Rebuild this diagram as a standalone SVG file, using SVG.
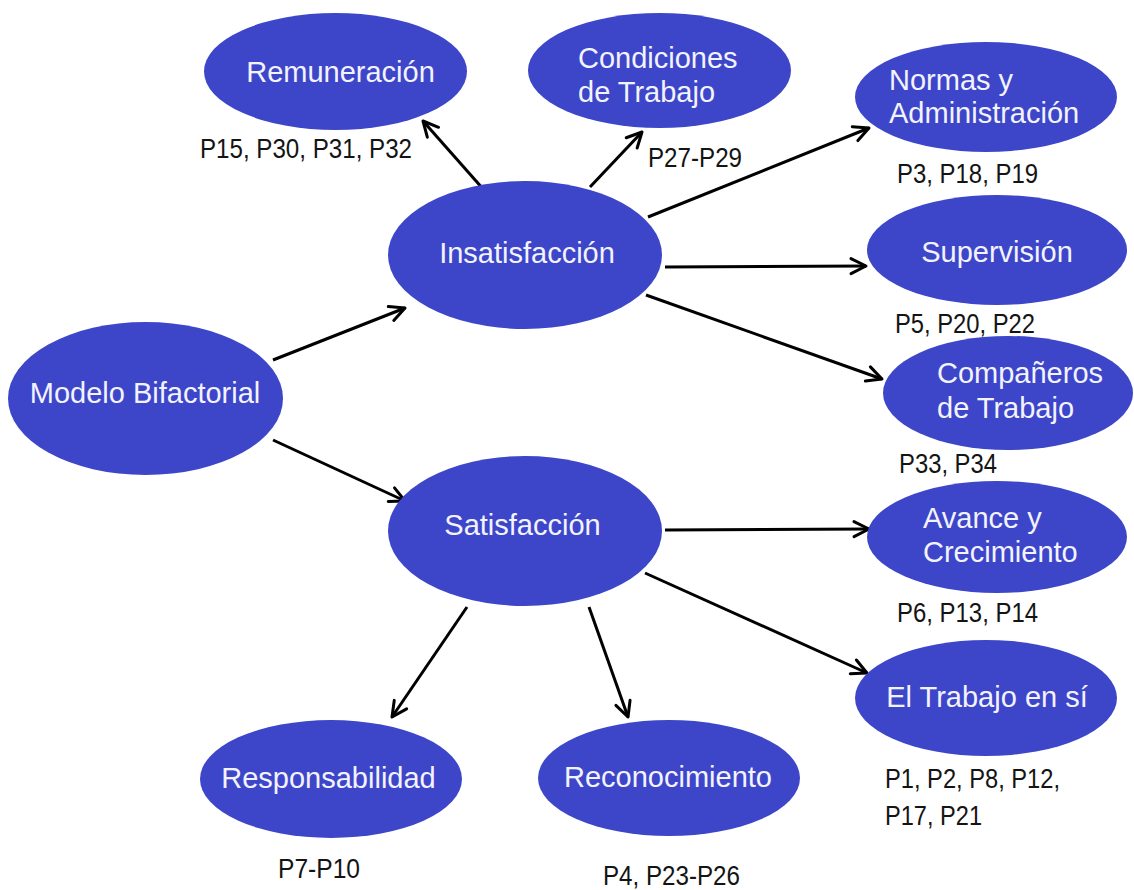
<svg xmlns="http://www.w3.org/2000/svg" width="1134" height="890" viewBox="0 0 1134 890">
  <style>
    .node { fill: #3d46c9; }
    .ntext { font-family: "Liberation Sans", Arial, sans-serif; font-size: 29px; fill: #f3f3ff; }
    .mid { text-anchor: middle; }
    .lbl { font-family: "Liberation Sans", Arial, sans-serif; font-size: 28px; fill: #141414; }
    .edge { stroke: #000; stroke-width: 3; fill: none; marker-end: url(#arrow); }
  </style>
  <defs>
    <marker id="arrow" markerUnits="userSpaceOnUse" markerWidth="22" markerHeight="22" viewBox="0 0 22 22" refX="19" refY="11" orient="auto">
      <path d="M4,3.5 L19,11 L4,18.5" stroke="#000" stroke-width="3" fill="none" stroke-linecap="round" stroke-linejoin="round"/>
    </marker>
  </defs>
  <rect width="1134" height="890" fill="#ffffff"/>

  <g id="connectors">
    <line class="edge" x1="273" y1="360" x2="405" y2="308"/>
    <line class="edge" x1="273" y1="440" x2="405" y2="501"/>
    <line class="edge" x1="484" y1="190" x2="423" y2="121"/>
    <line class="edge" x1="590" y1="187" x2="642" y2="132"/>
    <line class="edge" x1="648" y1="217" x2="869" y2="128"/>
    <line class="edge" x1="665" y1="267" x2="866" y2="266"/>
    <line class="edge" x1="646" y1="295" x2="882" y2="379"/>
    <line class="edge" x1="665" y1="530" x2="869" y2="529"/>
    <line class="edge" x1="645" y1="573" x2="867" y2="673"/>
    <line class="edge" x1="467" y1="607" x2="392" y2="717"/>
    <line class="edge" x1="589" y1="607" x2="628" y2="717"/>
  </g>

  <g id="modelo-bifactorial">
    <ellipse class="node" cx="145.5" cy="398.5" rx="137.5" ry="76.5"/>
    <text class="ntext mid" x="145" y="403">Modelo Bifactorial</text>
  </g>

  <g id="insatisfaccion">
    <ellipse class="node" cx="525" cy="255" rx="137" ry="74"/>
    <text class="ntext mid" x="527" y="263">Insatisfacción</text>
  </g>

  <g id="satisfaccion">
    <ellipse class="node" cx="525" cy="531" rx="137" ry="75"/>
    <text class="ntext mid" x="522.5" y="535">Satisfacción</text>
  </g>

  <g id="remuneracion">
    <ellipse class="node" cx="335.5" cy="71.5" rx="131.5" ry="58.5"/>
    <text class="ntext mid" x="340.5" y="82">Remuneración</text>
    <text class="lbl" x="200" y="158" textLength="212" lengthAdjust="spacingAndGlyphs">P15, P30, P31, P32</text>
  </g>

  <g id="condiciones-trabajo">
    <ellipse class="node" cx="659.5" cy="70.5" rx="131.5" ry="57.5"/>
    <text class="ntext" x="578" y="68">Condiciones</text>
    <text class="ntext" x="578" y="102">de Trabajo</text>
    <text class="lbl" x="648" y="167" textLength="94" lengthAdjust="spacingAndGlyphs">P27-P29</text>
  </g>

  <g id="normas-administracion">
    <ellipse class="node" cx="986" cy="97" rx="131" ry="55"/>
    <text class="ntext" x="889" y="90">Normas y</text>
    <text class="ntext" x="889" y="123">Administración</text>
    <text class="lbl" x="897" y="183" textLength="141" lengthAdjust="spacingAndGlyphs">P3, P18, P19</text>
  </g>

  <g id="supervision">
    <ellipse class="node" cx="997" cy="250" rx="130" ry="55"/>
    <text class="ntext mid" x="997" y="262">Supervisión</text>
    <text class="lbl" x="895" y="333" textLength="140" lengthAdjust="spacingAndGlyphs">P5, P20, P22</text>
  </g>

  <g id="companeros-trabajo">
    <ellipse class="node" cx="1008" cy="393" rx="125" ry="57"/>
    <text class="ntext" x="937" y="383">Compañeros</text>
    <text class="ntext" x="937" y="418">de Trabajo</text>
    <text class="lbl" x="899" y="473" textLength="98" lengthAdjust="spacingAndGlyphs">P33, P34</text>
  </g>

  <g id="avance-crecimiento">
    <ellipse class="node" cx="997" cy="537" rx="130" ry="56"/>
    <text class="ntext" x="923" y="528">Avance y</text>
    <text class="ntext" x="923" y="562">Crecimiento</text>
    <text class="lbl" x="897" y="622" textLength="141" lengthAdjust="spacingAndGlyphs">P6, P13, P14</text>
  </g>

  <g id="trabajo-en-si">
    <ellipse class="node" cx="986" cy="698" rx="131" ry="58"/>
    <text class="ntext mid" x="987" y="707">El Trabajo en sí</text>
    <text class="lbl" x="885" y="788" textLength="175" lengthAdjust="spacingAndGlyphs">P1, P2, P8, P12,</text>
    <text class="lbl" x="885" y="825" textLength="97" lengthAdjust="spacingAndGlyphs">P17, P21</text>
  </g>

  <g id="responsabilidad">
    <ellipse class="node" cx="331" cy="779" rx="131" ry="59"/>
    <text class="ntext mid" x="328.5" y="788">Responsabilidad</text>
    <text class="lbl" x="278" y="878" textLength="82" lengthAdjust="spacingAndGlyphs">P7-P10</text>
  </g>

  <g id="reconocimiento">
    <ellipse class="node" cx="669" cy="778" rx="131" ry="58"/>
    <text class="ntext mid" x="668" y="787">Reconocimiento</text>
    <text class="lbl" x="603" y="885" textLength="137" lengthAdjust="spacingAndGlyphs">P4, P23-P26</text>
  </g>
</svg>
